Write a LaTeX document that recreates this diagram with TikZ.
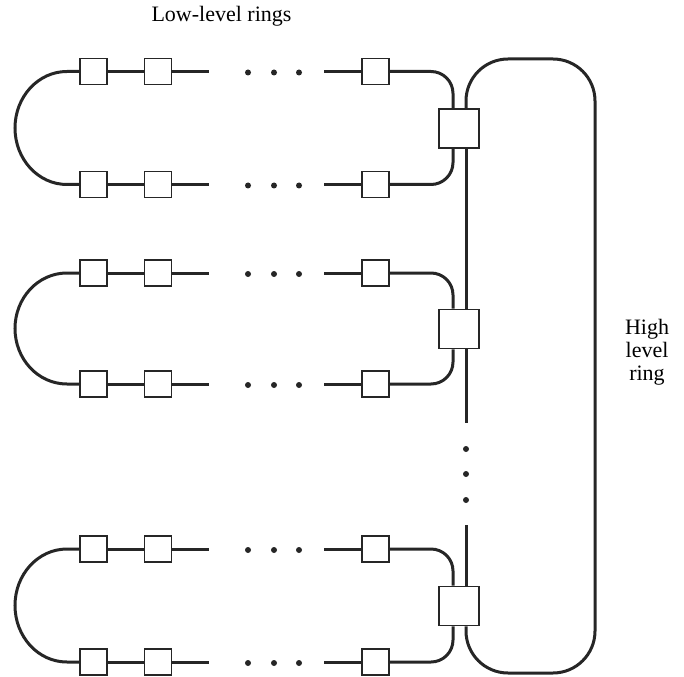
\documentclass[tikz,border=0pt]{standalone}
\usepackage{fontspec}
\setmainfont{Liberation Serif}
\begin{document}
\begin{tikzpicture}[x=1pt,y=-1pt,
  line/.style={line width=3pt, draw=black!85},
  smallbox/.style={draw=black!85, line width=1.8pt, fill=white, minimum width=27pt, minimum height=26pt, inner sep=0pt},
  bigbox/.style={draw=black!85, line width=1.8pt, fill=white, minimum width=40pt, minimum height=39pt, inner sep=0pt},
  dot/.style={fill=black!85, circle, inner sep=0pt, minimum size=6pt},
  label/.style={font=\fontsize{22}{23}\selectfont, align=center, inner sep=0pt}]
\useasboundingbox (0,0) rectangle (684,676);

\node[label] (lowlab) at (221.5,16) {Low-level rings};
\node[label] (highlab) at (647,352) {High\\level\\ring};

% ring definitions: name / top y / bottom y / big box y
\foreach \r/\T/\B/\M in {1/71.5/184.5/128.5, 2/273/384/329, 3/549/662/606}{
  \pgfmathsetmacro{\mid}{(\T+\B)/2}
  \pgfmathsetmacro{\ry}{(\B-\T)/2}
  \node[bigbox] (big\r) at (459,\M) {};
  \node[smallbox] (a1\r) at (93.5,\T) {};
  \node[smallbox] (a2\r) at (158,\T) {};
  \node[smallbox] (a3\r) at (375.5,\T) {};
  \node[smallbox] (b1\r) at (93.5,\B) {};
  \node[smallbox] (b2\r) at (158,\B) {};
  \node[smallbox] (b3\r) at (375.5,\B) {};
  \node[dot] (ta\r) at (248,\T+1) {};
  \node[dot] (tb\r) at (274,\T+1) {};
  \node[dot] (tc\r) at (299,\T+1) {};
  \node[dot] (ba\r) at (248,\B+1) {};
  \node[dot] (bb\r) at (274,\B+1) {};
  \node[dot] (bc\r) at (299,\B+1) {};
  \coordinate (ae\r) at (209,\T);
  \coordinate (as\r) at (324,\T);
  \coordinate (be\r) at (209,\B);
  \coordinate (bs\r) at (324,\B);
  % connectors
  \draw[line] (a1\r) -- (a2\r);
  \draw[line] (a2\r) -- (ae\r);
  \draw[line] (as\r) -- (a3\r);
  \draw[line] (b1\r) -- (b2\r);
  \draw[line] (b2\r) -- (be\r);
  \draw[line] (bs\r) -- (b3\r);
  \draw[line, rounded corners=22pt] (a3\r.east) -| ([xshift=-6pt]big\r.north);
  \draw[line, rounded corners=22pt] ([xshift=-6pt]big\r.south) |- (b3\r.east);
  \draw[line] (a1\r.west) -- (67,\T) .. controls (38,\T) and (15,\mid-0.55*\ry) .. (15,\mid)
     .. controls (15,\mid+0.55*\ry) and (38,\B) .. (67,\B) -- (b1\r.west);
}

% high-level ring
\coordinate (hTL) at (466,59);
\coordinate (hTR) at (595,59);
\coordinate (hBR) at (595,673);
\coordinate (hBL) at (466,673);
\coordinate (gapA) at (466,423);
\coordinate (gapB) at (466,525);
\draw[line, rounded corners=42pt] ([xshift=7pt]big1.north) -- (hTL) -- (hTR) -- (hBR) -- (hBL) -- ([xshift=7pt]big3.south);
\draw[line] ([xshift=7pt]big1.south) -- ([xshift=7pt]big2.north);
\draw[line] ([xshift=7pt]big2.south) -- (gapA);
\draw[line] (gapB) -- ([xshift=7pt]big3.north);
\node[dot] (v1) at (466,449) {};
\node[dot] (v2) at (466,474) {};
\node[dot] (v3) at (466,500) {};
\end{tikzpicture}
\end{document}
